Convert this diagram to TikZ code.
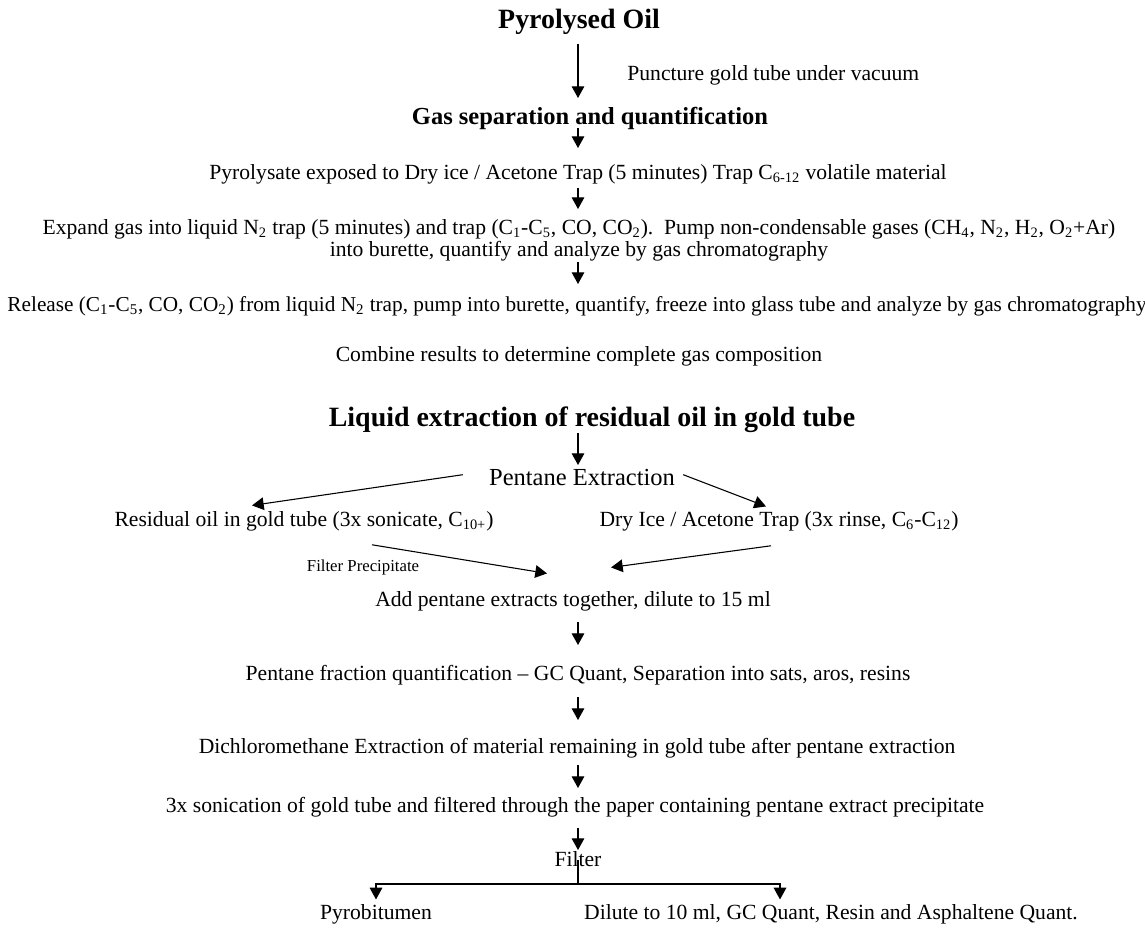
\documentclass[tikz,border=0pt]{standalone}
\usepackage{fontspec}
\setmainfont{Liberation Serif}
\usetikzlibrary{positioning,arrows.meta,calc}

\begin{document}
\begin{tikzpicture}[
    x=0.555pt, y=-0.555pt,
    plain/.style={font=\fontsize{12}{12}\selectfont, inner sep=0pt, anchor=base},
    txt/.style={plain, text height=9pt, text depth=3pt},
    hdr/.style={font=\bfseries\fontsize{15.5}{17}\selectfont, inner sep=0pt,
                text height=11pt, text depth=3.5pt, anchor=base},
    subhdr/.style={font=\bfseries\fontsize{13.6}{15}\selectfont, inner sep=0pt,
                text height=10pt, text depth=3pt, anchor=base},
    big/.style={font=\fontsize{13.6}{15}\selectfont, inner sep=0pt,
                text height=10pt, text depth=3pt, anchor=base},
    note/.style={font=\fontsize{9.3}{10}\selectfont, inner sep=0pt, anchor=base},
    arr/.style={-{Triangle[length=6.5pt,width=7pt]}, line width=0.6pt},
    conn/.style={line width=0.6pt}
  ]
    \useasboundingbox (0,0) rectangle (1145,927);
    \coordinate (ax) at (578,0);

    % gas side
    \node[hdr] (oil) at (579,28) {Pyrolysed Oil};
    \node[txt, anchor=base west] (punct) at (627,80) {Puncture gold tube under vacuum};
    \node[subhdr] (gas) at (590,124) {Gas separation and quantification};
    \node[txt] (trap) at (578,179) {Pyrolysate exposed to Dry ice / Acetone Trap (5 minutes) Trap C\textsubscript{6-12} volatile material};
    \node[plain, align=center] (expand) at (579,256) {Expand gas into liquid N\textsubscript{2} trap (5 minutes) and trap (C\textsubscript{1}-C\textsubscript{5}, CO, CO\textsubscript{2}).\ \ Pump non-condensable gases (CH\textsubscript{4}, N\textsubscript{2}, H\textsubscript{2}, O\textsubscript{2}+Ar)\\
      into burette, quantify and analyze by gas chromatography};
    \node[txt, font=\fontsize{11.8}{12}\selectfont] (release) at (577,311) {Release (C\textsubscript{1}-C\textsubscript{5}, CO, CO\textsubscript{2}) from liquid N\textsubscript{2} trap, pump into burette, quantify, freeze into glass tube and analyze by gas chromatography};
    \node[txt] (combine) at (579,361) {Combine results to determine complete gas composition};

    \draw[arr] ($(oil.base -| ax)+(0,16)$) -- ($(gas.base -| ax)+(0,-26)$);
    \draw[arr] ($(gas.base -| ax)+(0,4)$) -- ($(trap.base -| ax)+(0,-31)$);
    \draw[arr] ($(trap.base -| ax)+(0,9)$) -- ($(expand.north -| ax)+(0,-10)$);
    \draw[arr] ($(expand.south -| ax)+(0,1)$) -- ($(release.base -| ax)+(0,-27)$);

    % liquid side
    \node[hdr] (liquid) at (592,426) {Liquid extraction of residual oil in gold tube};
    \node[big] (pent) at (582,485) {Pentane Extraction};
    \node[txt] (resid) at (304,526) {Residual oil in gold tube (3x sonicate, C\textsubscript{10+})};
    \node[txt] (dry) at (779,526) {Dry Ice / Acetone Trap (3x rinse, C\textsubscript{6}-C\textsubscript{12})};
    \node[note] (filtp) at (363,571) {Filter Precipitate};
    \node[txt] (add) at (573,606) {Add pentane extracts together, dilute to 15 ml};
    \node[txt] (frac) at (578,680) {Pentane fraction quantification -- GC Quant, Separation into sats, aros, resins};
    \node[txt] (dcm) at (577,753) {Dichloromethane Extraction of material remaining in gold tube after pentane extraction};
    \node[txt] (sonic) at (575,812) {3x sonication of gold tube and filtered through the paper containing pentane extract precipitate};
    \node[txt] (filt) at (578,866) {Filter};
    \node[txt] (pyb) at (376,919) {Pyrobitumen};
    \node[txt] (dil) at (831,919) {Dilute to 10 ml, GC Quant, Resin and Asphaltene Quant.};

    \draw[arr] ($(liquid.base -| ax)+(0,7)$) -- ($(pent.base -| ax)+(0,-20)$);
    \draw[arr] ($(pent.west)+(-26,-4)$) -- ($(resid.north)+(-52,-4)$);
    \draw[arr] ($(pent.east)+(8,-4)$) -- ($(dry.north)+(-13,-3)$);
    \draw[arr] ($(resid.south)+(68,13)$) -- ($(add.north)+(-26,-16)$);
    \draw[arr] ($(dry.south)+(-8,14)$) -- ($(add.north)+(38,-22)$);
    \draw[arr] ($(add.base -| ax)+(0,16)$) -- ($(frac.base -| ax)+(0,-35)$);
    \draw[arr] ($(frac.base -| ax)+(0,17)$) -- ($(dcm.base -| ax)+(0,-33)$);
    \draw[arr] ($(dcm.base -| ax)+(0,12)$) -- ($(sonic.base -| ax)+(0,-24)$);
    \draw[arr] ($(sonic.base -| ax)+(0,16)$) -- ($(filt.base -| ax)+(0,-16)$);
    \draw[conn] ($(filt.base)+(0,-6)$) -- ($(filt.base)+(0,18)$) coordinate (split);
    \draw[arr] (split) -| ($(pyb.north)+(0,-3)$);
    \draw[arr] (split) -| ($(dil.north)+(-51,-3)$);
\end{tikzpicture}
\end{document}
